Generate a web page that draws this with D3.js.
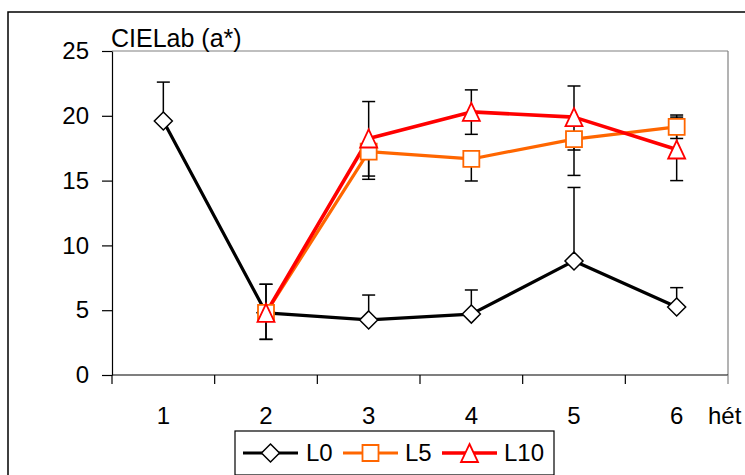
<!DOCTYPE html>
<html><head><meta charset="utf-8">
<script src="https://cdn.jsdelivr.net/npm/d3@7/dist/d3.min.js"></script>
<style>
html,body{margin:0;padding:0;background:#fff;}
svg{display:block;font-family:"Liberation Sans",Arial,sans-serif;}
</style></head>
<body>
<svg id="chart" width="745" height="475"></svg>
<script>
const categories = ["1","2","3","4","5","6"];
const yTicks = [0,5,10,15,20,25];
const seriesNames = ["L0","L5","L10"];
const L0 = [19.6, 4.8, 4.25, 4.7, 8.8, 5.25];
const L5 = [null, 4.8, 17.23, 16.67, 18.2, 19.15];
const L10 = [null, 4.8, 18.25, 20.3, 19.9, 17.4];
const L0errPlus = [3.0, 2.2, 1.92, 1.86, 5.67, 1.49];
const L0errMinus = [0, 0, 0, 0, 0, 0];
const L5errPlus = [0, 0, 0, 0, 0, 0.91];
const L5errMinus = [0, 2.05, 1.88, 1.7, 2.8, 0.9];
const L10errPlus = [0, 2.2, 2.85, 1.7, 2.4, 2.5];
const L10errMinus = [0, 2.05, 3.15, 1.73, 2.54, 2.4];
const xTitle = "hét";
const yTitle = "CIELab (a*)";

(function(){
const series = [
  {name:seriesNames[0], values:L0, plus:L0errPlus, minus:L0errMinus, color:"#000000", lw:3.2, marker:"diamond"},
  {name:seriesNames[1], values:L5, plus:L5errPlus, minus:L5errMinus, color:"#FF6600", lw:3.2, marker:"square"},
  {name:seriesNames[2], values:L10, plus:L10errPlus, minus:L10errMinus, color:"#FF0000", lw:3.6, marker:"triangle"}
];
const FS = 24;

const svg = d3.select("#chart");
const pLeft = 112, pRight = 728, pTop = 51, pBottom = 375;

// outer frame
svg.append("rect").attr("x",8).attr("y",12).attr("width",760).attr("height",480)
  .attr("fill","#fff").attr("stroke","#000").attr("stroke-width",1.5);

const xb = d3.scaleBand().domain(categories).range([pLeft,pRight]).paddingInner(0).paddingOuter(0);
const x = c => xb(c) + xb.bandwidth()/2;
const y = d3.scaleLinear().domain([0,25]).range([pBottom,pTop]);

// plot area border (gray top/right)
svg.append("line").attr("x1",pLeft).attr("x2",pRight).attr("y1",pTop).attr("y2",pTop).attr("stroke","#808080").attr("stroke-width",1.2);
svg.append("line").attr("x1",pRight).attr("x2",pRight).attr("y1",pTop).attr("y2",pBottom).attr("stroke","#808080").attr("stroke-width",1.2);

// y axis
const yAxis = svg.append("g").attr("transform",`translate(${pLeft},0)`)
  .call(d3.axisLeft(y).tickValues(yTicks).tickSize(10).tickSizeOuter(0).tickPadding(13).tickFormat(d3.format("d")));
yAxis.select(".domain").attr("stroke","#000").attr("stroke-width",1.2);
yAxis.selectAll(".tick line").attr("stroke","#000").attr("stroke-width",1.2);
yAxis.selectAll(".tick text").attr("font-size",FS).attr("fill","#000").attr("font-family","Liberation Sans, Arial, sans-serif");

// x axis
const xg = svg.append("g").attr("transform",`translate(0,${pBottom})`);
xg.append("line").attr("x1",pLeft).attr("x2",pRight).attr("y1",0).attr("y2",0).attr("stroke","#000").attr("stroke-width",1.2);
const bounds = categories.map(c=>xb(c)).concat([xb.range()[1]]);
xg.selectAll("line.tk").data(bounds).enter().append("line").attr("class","tk")
  .attr("x1",d=>d).attr("x2",d=>d).attr("y1",0).attr("y2",9)
  .attr("stroke",(d,i)=> i===bounds.length-1 ? "#808080" : "#000").attr("stroke-width",1.2);
xg.selectAll("text.lb").data(categories).enter().append("text").attr("class","lb")
  .attr("x",d=>x(d)).attr("y",49).attr("text-anchor","middle").attr("font-size",FS).text(d=>d);
svg.append("text").attr("x",708).attr("y",424).attr("font-size",FS).text(xTitle);
svg.append("text").attr("x",111).attr("y",47).attr("font-size",25).text(yTitle);

// lines
const plot = svg.append("g");
series.forEach(s=>{
  const line = d3.line().defined(d=>d.v!=null).x(d=>x(d.c)).y(d=>y(d.v));
  plot.append("path").datum(categories.map((c,i)=>({c,v:s.values[i]})))
    .attr("d",line).attr("fill","none").attr("stroke",s.color).attr("stroke-width",s.lw).attr("stroke-linejoin","round");
});

// error bars
const cap = 6.5;
series.forEach(s=>{
  categories.forEach((c,i)=>{
    const v = s.values[i]; if (v==null) return;
    const cx = x(c);
    [[s.plus[i],1],[s.minus[i],-1]].forEach(([e,sg])=>{
      if (!e) return;
      const ye = y(v + sg*e);
      plot.append("line").attr("x1",cx).attr("x2",cx).attr("y1",y(v)).attr("y2",ye).attr("stroke","#000").attr("stroke-width",1.5);
      plot.append("line").attr("x1",cx-cap).attr("x2",cx+cap).attr("y1",ye).attr("y2",ye).attr("stroke","#000").attr("stroke-width",1.5);
    });
  });
});

function markerPath(type){
  if (type==="diamond") return "M0,-9L9,0L0,9L-9,0Z";
  if (type==="square") return "M-8,-8H8V8H-8Z";
  return "M0,-9L8.5,9H-8.5Z";
}
series.forEach(s=>{
  categories.forEach((c,i)=>{
    const v = s.values[i]; if (v==null) return;
    plot.append("path").attr("d",markerPath(s.marker)).attr("transform",`translate(${x(c)},${y(v)})`)
      .attr("fill","#fff").attr("stroke",s.color).attr("stroke-width",s.marker==="diamond"?1.5:1.8);
  });
});

// legend
const lg = svg.append("g");
lg.append("rect").attr("x",235).attr("y",431).attr("width",319).attr("height",44).attr("fill","#fff").attr("stroke","#000").attr("stroke-width",1.2);
const legX = [243, 343, 442];
const legText = [306, 405, 504];
series.forEach((s,i)=>{
  const ly = 453;
  lg.append("line").attr("x1",legX[i]).attr("x2",legX[i]+55).attr("y1",ly).attr("y2",ly).attr("stroke",s.color).attr("stroke-width",s.lw);
  lg.append("path").attr("d",markerPath(s.marker)).attr("transform",`translate(${legX[i]+27.5},${ly})`)
    .attr("fill","#fff").attr("stroke",s.color).attr("stroke-width",s.marker==="diamond"?1.5:1.8);
  lg.append("text").attr("x",legText[i]).attr("y",ly+8).attr("font-size",FS).text(s.name);
});
})();
</script>
</body></html>
